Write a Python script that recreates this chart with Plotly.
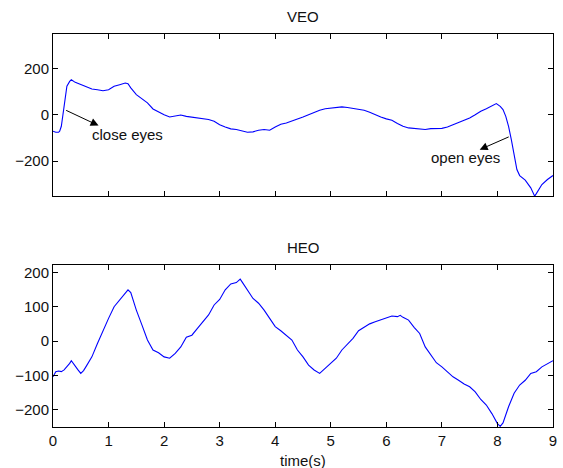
import plotly.graph_objects as go

# VEO signal (time in s, amplitude)
veo_t = [0, 0.05, 0.1, 0.12, 0.15, 0.18, 0.2, 0.23, 0.25, 0.3, 0.33, 0.4, 0.5, 0.6, 0.7, 0.8, 0.9,
         1.0, 1.1, 1.2, 1.3, 1.35, 1.4, 1.5, 1.6, 1.7, 1.8, 1.9, 2.0, 2.1, 2.2, 2.3, 2.4, 2.5, 2.6,
         2.7, 2.8, 2.9, 3.0, 3.1, 3.2, 3.3, 3.4, 3.5, 3.6, 3.7, 3.8, 3.9, 4.0, 4.1, 4.2, 4.3, 4.4,
         4.5, 4.6, 4.7, 4.8, 4.9, 5.0, 5.1, 5.2, 5.3, 5.4, 5.5, 5.6, 5.7, 5.8, 5.9, 6.0, 6.1, 6.2,
         6.3, 6.4, 6.5, 6.6, 6.7, 6.8, 6.9, 7.0, 7.1, 7.2, 7.3, 7.4, 7.5, 7.6, 7.7, 7.8, 7.9, 7.95,
         7.98, 8.05, 8.1, 8.15, 8.2, 8.25, 8.3, 8.35, 8.4, 8.5, 8.6, 8.67, 8.7, 8.8, 8.9, 9.0]
veo_v = [-70, -75, -75, -70, -49, 0, 37, 88, 124, 145, 152, 141, 131, 121, 112, 109, 105,
         109, 124, 131, 138, 135, 117, 88, 71, 52, 26, 12, 1, -9, -3, 0, -6, -9, -13,
         -17, -20, -27, -42, -52, -60, -63, -70, -75, -73, -66, -63, -66, -52, -40, -35, -27, -17,
         -9, 1, 12, 20, 27, 30, 33, 35, 32, 29, 23, 20, 12, 1, -9, -17, -23, -37,
         -49, -56, -59, -60, -63, -59, -58, -58, -52, -42, -35, -23, -13, 1, 16, 27, 40, 45,
         49, 37, 23, -6, -49, -107, -179, -236, -262, -282, -315, -351, -340, -301, -279, -262]

# HEO signal
heo_t = [0, 0.05, 0.1, 0.15, 0.2, 0.25, 0.3, 0.33, 0.4, 0.45, 0.5, 0.55, 0.6, 0.7, 0.8, 0.9,
         1.0, 1.1, 1.2, 1.3, 1.35, 1.4, 1.5, 1.6, 1.7, 1.8, 1.9, 2.0, 2.1, 2.2, 2.3, 2.4, 2.5,
         2.6, 2.7, 2.8, 2.9, 3.0, 3.1, 3.2, 3.3, 3.37, 3.4, 3.5, 3.6, 3.7, 3.8, 3.9, 4.0, 4.1,
         4.2, 4.3, 4.4, 4.5, 4.6, 4.7, 4.8, 4.9, 5.0, 5.1, 5.2, 5.3, 5.4, 5.5, 5.6, 5.7, 5.8,
         5.9, 6.0, 6.1, 6.2, 6.25, 6.3, 6.4, 6.5, 6.6, 6.7, 6.8, 6.9, 7.0, 7.1, 7.2, 7.3, 7.4,
         7.5, 7.6, 7.7, 7.8, 7.9, 8.0, 8.05, 8.1, 8.2, 8.3, 8.4, 8.5, 8.6, 8.7, 8.8, 8.9, 9.0]
heo_v = [-104, -89, -87, -89, -84, -75, -65, -57, -75, -84, -94, -86, -73, -46, -7, 32,
         66, 100, 121, 139, 149, 141, 90, 47, 3, -26, -34, -46, -50, -36, -17, 11, 17,
         37, 56, 76, 105, 121, 149, 166, 170, 180, 173, 149, 124, 110, 90, 66, 42, 30,
         17, 3, -26, -46, -70, -84, -94, -80, -65, -50, -26, -9, 8, 30, 40, 50, 56,
         61, 66, 73, 71, 75, 69, 61, 40, 22, -17, -41, -63, -75, -89, -104, -114, -125,
         -133, -148, -170, -186, -211, -240, -248, -238, -191, -152, -128, -114, -94, -89, -75, -65, -57]

x_ticks = [0, 1, 2, 3, 4, 5, 6, 7, 8, 9]
veo_yticks = [-200, 0, 200]
heo_yticks = [-200, -100, 0, 100, 200]

FONT = "Liberation Sans, Arial, Helvetica, sans-serif"
BLUE = "#0000ff"
FS = 15

fig = go.Figure()
fig.add_trace(go.Scatter(x=veo_t, y=veo_v, mode="lines", line=dict(color=BLUE, width=1.1),
                         xaxis="x", yaxis="y", showlegend=False))
fig.add_trace(go.Scatter(x=heo_t, y=heo_v, mode="lines", line=dict(color=BLUE, width=1.1),
                         xaxis="x2", yaxis="y2", showlegend=False))

ax_common = dict(showline=True, linecolor="black", linewidth=1, mirror="ticks",
                 ticks="inside", ticklen=5, tickcolor="black", showgrid=False,
                 zeroline=False, tickfont=dict(family=FONT, size=FS, color="#111"))

fig.update_layout(
    width=563, height=468,
    margin=dict(l=53, r=6, t=34, b=41),
    paper_bgcolor="white", plot_bgcolor="white",
    xaxis=dict(domain=[0, 1], anchor="y", range=[0, 9], tickvals=x_ticks,
               showticklabels=False, **ax_common),
    yaxis=dict(domain=[0.588, 1], anchor="x", range=[-350, 350], tickvals=veo_yticks,
               **ax_common),
    xaxis2=dict(domain=[0, 1], anchor="y2", range=[0, 9], tickvals=x_ticks, **ax_common),
    yaxis2=dict(domain=[0, 0.412], anchor="x2", range=[-250, 221], tickvals=heo_yticks,
                **ax_common),
    font=dict(family=FONT, size=FS, color="#111"),
)

annotations = [
    dict(text="VEO", x=0.5, y=1.0458, xref="paper", yref="paper", showarrow=False,
         xanchor="center", yanchor="middle", font=dict(size=FS)),
    dict(text="HEO", x=0.5, y=0.458, xref="paper", yref="paper", showarrow=False,
         xanchor="center", yanchor="middle", font=dict(size=FS)),
    dict(text="time(s)", x=0.5, y=-0.084, xref="paper", yref="paper", showarrow=False,
         xanchor="center", yanchor="middle", font=dict(size=FS)),
    # close eyes arrow
    dict(x=0.82, y=-46, xref="x", yref="y", ax=0.21, ay=23, axref="x", ayref="y",
         text="", showarrow=True, arrowhead=2, arrowsize=1.6, arrowwidth=1,
         arrowcolor="black", standoff=0, startstandoff=0),
    dict(text="close eyes", x=1.34, y=-85, xref="x", yref="y", showarrow=False,
         xanchor="center", yanchor="middle", font=dict(size=FS)),
    # open eyes arrow
    dict(x=7.68, y=-150, xref="x", yref="y", ax=8.23, ay=-92, axref="x", ayref="y",
         text="", showarrow=True, arrowhead=2, arrowsize=1.6, arrowwidth=1,
         arrowcolor="black", standoff=0, startstandoff=0),
    dict(text="open eyes", x=7.43, y=-183, xref="x", yref="y", showarrow=False,
         xanchor="center", yanchor="middle", font=dict(size=FS)),
]
fig.update_layout(annotations=annotations)

fig.write_html("out.html", config={"displayModeBar": False},
               post_script="document.body.style.margin='0px';document.body.style.overflow='hidden';")
